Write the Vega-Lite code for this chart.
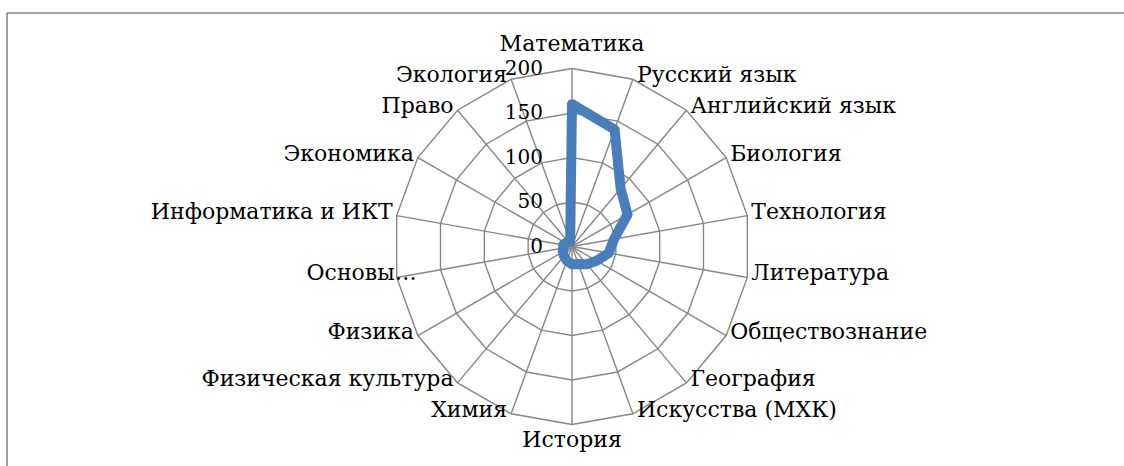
{
  "$schema": "https://vega.github.io/schema/vega-lite/v6.json",
  "autosize": "none",
  "width": 1117,
  "height": 453,
  "padding": {"left": 7, "top": 13, "right": 0, "bottom": 0},
  "background": "white",
  "config": {
    "view": {"stroke": null},
    "text": {"font": "DejaVu Serif", "fontSize": 22, "color": "#000000"}
  },
  "data": {
    "values": [
      {"subject": "Математика", "value": 160},
      {"subject": "Русский язык", "value": 140},
      {"subject": "Английский язык", "value": 85},
      {"subject": "Биология", "value": 72},
      {"subject": "Технология", "value": 48},
      {"subject": "Литература", "value": 42},
      {"subject": "Обществознание", "value": 32},
      {"subject": "География", "value": 26},
      {"subject": "Искусства (МХК)", "value": 21},
      {"subject": "История", "value": 20},
      {"subject": "Химия", "value": 17},
      {"subject": "Физическая культура", "value": 14},
      {"subject": "Физика", "value": 12},
      {"subject": "Основы…", "value": 10},
      {"subject": "Информатика и ИКТ", "value": 10},
      {"subject": "Экономика", "value": 8},
      {"subject": "Право", "value": 7},
      {"subject": "Экология", "value": 6}
    ]
  },
  "transform": [
    {"window": [{"op": "row_number", "as": "idx"}]},
    {"joinaggregate": [{"op": "count", "as": "n"}]},
    {"calculate": "(datum.idx - 1) * 2 * PI / datum.n", "as": "ang"}
  ],
  "layer": [
    {
      "transform": [
        {"calculate": "200 * sin(datum.ang)", "as": "sx"},
        {"calculate": "200 * cos(datum.ang)", "as": "sy"}
      ],
      "mark": {"type": "rule", "stroke": "#868686", "strokeWidth": 1.4},
      "encoding": {
        "x": {"field": "sx", "type": "quantitative", "scale": {"domain": [-634.8, 620.2], "nice": false, "zero": false}, "axis": null},
        "y": {"field": "sy", "type": "quantitative", "scale": {"domain": [-246.6, 262.4], "nice": false, "zero": false}, "axis": null},
        "x2": {"datum": 0},
        "y2": {"datum": 0}
      }
    },
    {
      "transform": [
        {"calculate": "[50, 100, 150, 200]", "as": "lv"},
        {"flatten": ["lv"]},
        {"calculate": "datum.lv * sin(datum.ang)", "as": "gx"},
        {"calculate": "datum.lv * cos(datum.ang)", "as": "gy"}
      ],
      "mark": {"type": "line", "interpolate": "linear-closed", "stroke": "#868686", "strokeWidth": 1.4},
      "encoding": {
        "x": {"field": "gx", "type": "quantitative", "scale": {"domain": [-634.8, 620.2], "nice": false, "zero": false}, "axis": null},
        "y": {"field": "gy", "type": "quantitative", "scale": {"domain": [-246.6, 262.4], "nice": false, "zero": false}, "axis": null},
        "detail": {"field": "lv", "type": "nominal"},
        "order": {"field": "idx", "type": "quantitative"}
      }
    },
    {
      "transform": [
        {"calculate": "datum.value * sin(datum.ang)", "as": "px"},
        {"calculate": "datum.value * cos(datum.ang)", "as": "py"}
      ],
      "mark": {"type": "line", "interpolate": "linear-closed", "stroke": "#4A7EBB", "strokeWidth": 10, "strokeJoin": "round"},
      "encoding": {
        "x": {"field": "px", "type": "quantitative", "scale": {"domain": [-634.8, 620.2], "nice": false, "zero": false}, "axis": null},
        "y": {"field": "py", "type": "quantitative", "scale": {"domain": [-246.6, 262.4], "nice": false, "zero": false}, "axis": null},
        "order": {"field": "idx", "type": "quantitative"}
      }
    },
    {
      "data": {"values": [{"lv": 0}, {"lv": 50}, {"lv": 100}, {"lv": 150}, {"lv": 200}]},
      "mark": {"type": "text", "fontSize": 20, "align": "right", "baseline": "middle", "dx": -29},
      "encoding": {
        "x": {"datum": 0, "type": "quantitative", "scale": {"domain": [-634.8, 620.2], "nice": false, "zero": false}, "axis": null},
        "y": {"field": "lv", "type": "quantitative", "scale": {"domain": [-246.6, 262.4], "nice": false, "zero": false}, "axis": null},
        "text": {"field": "lv", "type": "quantitative"}
      }
    },
    {
      "transform": [
        {"filter": "datum.idx == 1"},
        {"calculate": "200 * sin(datum.ang)", "as": "lx"},
        {"calculate": "200 * cos(datum.ang)", "as": "ly"}
      ],
      "mark": {"type": "text", "align": "center", "baseline": "middle", "dy": -25},
      "encoding": {
        "x": {"field": "lx", "type": "quantitative", "scale": {"domain": [-634.8, 620.2], "nice": false, "zero": false}, "axis": null},
        "y": {"field": "ly", "type": "quantitative", "scale": {"domain": [-246.6, 262.4], "nice": false, "zero": false}, "axis": null},
        "text": {"field": "subject", "type": "nominal"}
      }
    },
    {
      "transform": [
        {"filter": "datum.idx == 10"},
        {"calculate": "200 * sin(datum.ang)", "as": "lx"},
        {"calculate": "200 * cos(datum.ang)", "as": "ly"}
      ],
      "mark": {"type": "text", "align": "center", "baseline": "middle", "dy": 15},
      "encoding": {
        "x": {"field": "lx", "type": "quantitative", "scale": {"domain": [-634.8, 620.2], "nice": false, "zero": false}, "axis": null},
        "y": {"field": "ly", "type": "quantitative", "scale": {"domain": [-246.6, 262.4], "nice": false, "zero": false}, "axis": null},
        "text": {"field": "subject", "type": "nominal"}
      }
    },
    {
      "transform": [
        {"filter": "datum.idx >= 2 && datum.idx <= 9"},
        {"calculate": "200 * sin(datum.ang)", "as": "lx"},
        {"calculate": "200 * cos(datum.ang)", "as": "ly"}
      ],
      "mark": {"type": "text", "align": "left", "baseline": "middle", "dx": 4, "dy": -4},
      "encoding": {
        "x": {"field": "lx", "type": "quantitative", "scale": {"domain": [-634.8, 620.2], "nice": false, "zero": false}, "axis": null},
        "y": {"field": "ly", "type": "quantitative", "scale": {"domain": [-246.6, 262.4], "nice": false, "zero": false}, "axis": null},
        "text": {"field": "subject", "type": "nominal"}
      }
    },
    {
      "transform": [
        {"filter": "datum.idx >= 11 && datum.idx != 14"},
        {"calculate": "200 * sin(datum.ang)", "as": "lx"},
        {"calculate": "200 * cos(datum.ang)", "as": "ly"}
      ],
      "mark": {"type": "text", "align": "right", "baseline": "middle", "dx": -4, "dy": -4},
      "encoding": {
        "x": {"field": "lx", "type": "quantitative", "scale": {"domain": [-634.8, 620.2], "nice": false, "zero": false}, "axis": null},
        "y": {"field": "ly", "type": "quantitative", "scale": {"domain": [-246.6, 262.4], "nice": false, "zero": false}, "axis": null},
        "text": {"field": "subject", "type": "nominal"}
      }
    },
    {
      "transform": [
        {"filter": "datum.idx == 14"},
        {"calculate": "200 * sin(datum.ang)", "as": "lx"},
        {"calculate": "200 * cos(datum.ang)", "as": "ly"}
      ],
      "mark": {"type": "text", "align": "right", "baseline": "middle", "dx": 20, "dy": -4},
      "encoding": {
        "x": {"field": "lx", "type": "quantitative", "scale": {"domain": [-634.8, 620.2], "nice": false, "zero": false}, "axis": null},
        "y": {"field": "ly", "type": "quantitative", "scale": {"domain": [-246.6, 262.4], "nice": false, "zero": false}, "axis": null},
        "text": {"field": "subject", "type": "nominal"}
      }
    },
    {
      "data": {"values": [{}]},
      "mark": {"type": "rule", "stroke": "#878787", "strokeWidth": 1.6},
      "encoding": {
        "y": {"datum": 262.4, "type": "quantitative", "scale": {"domain": [-246.6, 262.4], "nice": false, "zero": false}, "axis": null}
      }
    },
    {
      "data": {"values": [{}]},
      "mark": {"type": "rule", "stroke": "#878787", "strokeWidth": 1.6},
      "encoding": {
        "x": {"datum": -634.8, "type": "quantitative", "scale": {"domain": [-634.8, 620.2], "nice": false, "zero": false}, "axis": null}
      }
    }
  ]
}
